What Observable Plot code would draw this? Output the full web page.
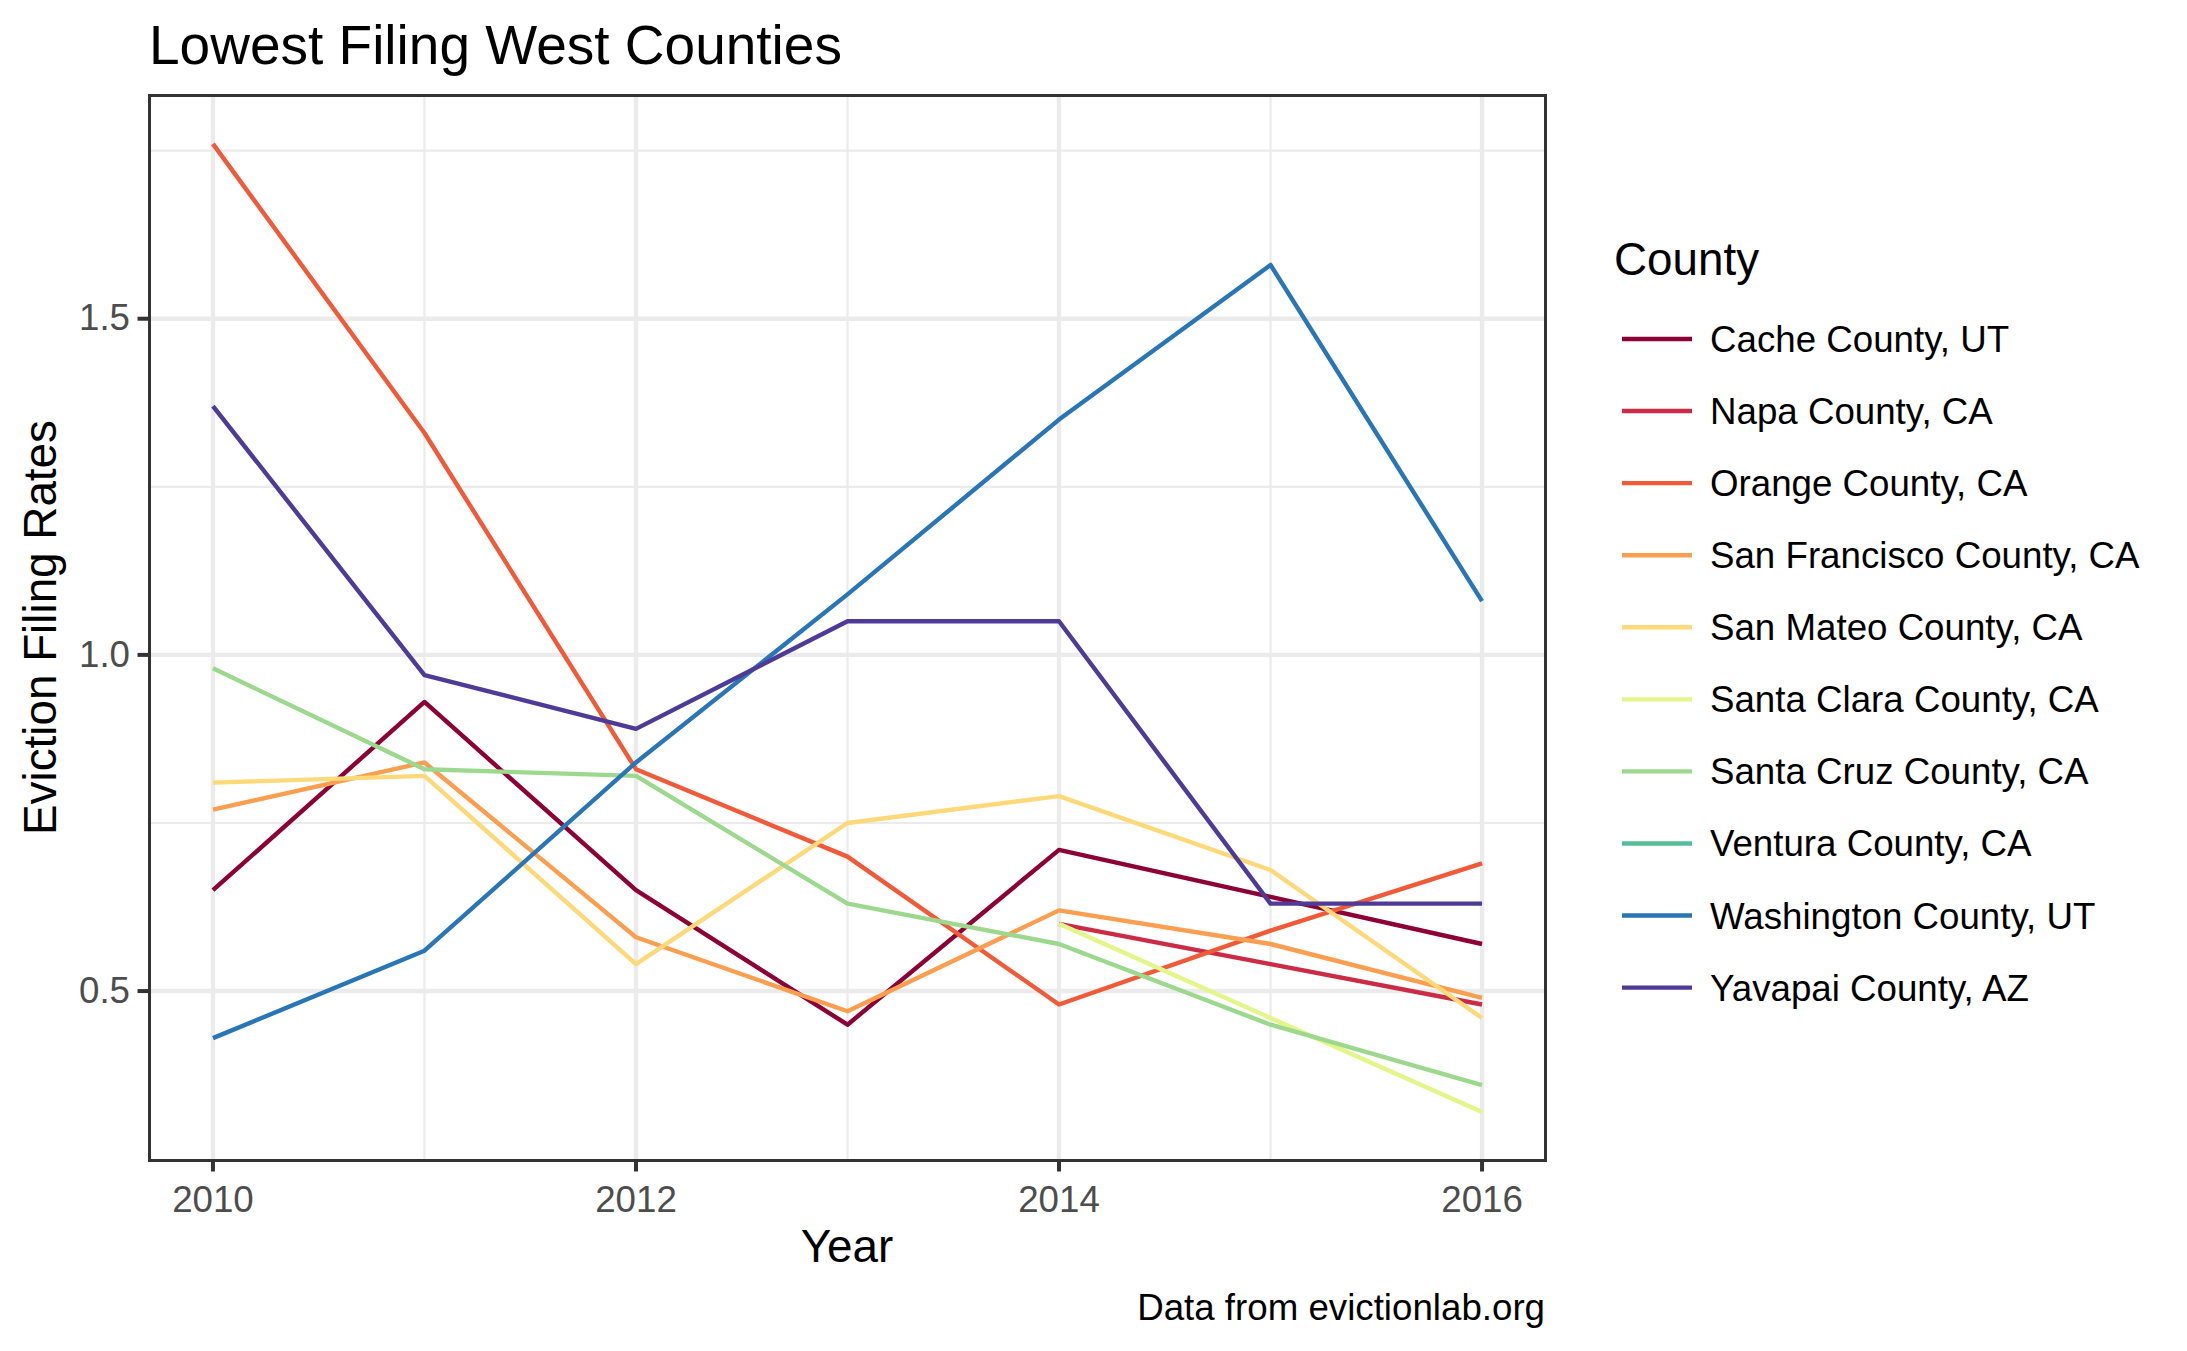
<!DOCTYPE html>
<html>
<head>
<meta charset="utf-8">
<script src="https://cdn.jsdelivr.net/npm/d3@7"></script>
<script src="https://cdn.jsdelivr.net/npm/@observablehq/plot@0.6"></script>
<style>
  html, body { margin: 0; padding: 0; background: #ffffff; }
  #chart { position: relative; width: 2187px; height: 1351px; }
  #chart svg { display: block; }
</style>
</head>
<body>
<div id="chart"></div>
<script>
// ---- Data ----
const years = [2010, 2011, 2012, 2013, 2014, 2015, 2016];
const counties = [
  "Cache County, UT",
  "Napa County, CA",
  "Orange County, CA",
  "San Francisco County, CA",
  "San Mateo County, CA",
  "Santa Clara County, CA",
  "Santa Cruz County, CA",
  "Ventura County, CA",
  "Washington County, UT",
  "Yavapai County, AZ"
];
const cacheUT        = [0.65, 0.93, 0.65, 0.45, 0.71, 0.64, 0.57];
const napaCA         = [null, null, null, null, 0.60, 0.54, 0.48];
const orangeCA       = [1.76, 1.33, 0.83, 0.70, 0.48, 0.59, 0.69];
const sanFranciscoCA = [0.77, 0.84, 0.58, 0.47, 0.62, 0.57, 0.49];
const sanMateoCA     = [0.81, 0.82, 0.54, 0.75, 0.79, 0.68, 0.46];
const santaClaraCA   = [null, null, null, null, 0.60, 0.46, 0.32];
const santaCruzCA    = [0.98, 0.83, 0.82, 0.63, 0.57, 0.45, 0.36];
const venturaCA      = [null, null, null, null, null, null, null];
const washingtonUT   = [0.43, 0.56, 0.84, 1.09, 1.35, 1.58, 1.08];
const yavapaiAZ      = [1.37, 0.97, 0.89, 1.05, 1.05, 0.63, 0.63];

const xMajorTicks = [2010, 2012, 2014, 2016];
const xMinorTicks = [2011, 2013, 2015];
const yMajorTicks = [0.5, 1.0, 1.5];
const yMinorTicks = [0.75, 1.25, 1.75];

const palette = ["#8C0036", "#CC2B45", "#F05A38", "#FB9E4F", "#FED97A",
                 "#E4F58A", "#9DD88F", "#55BE97", "#2876B6", "#4E3B98"];

// ---- Build long table ----
const series = [cacheUT, napaCA, orangeCA, sanFranciscoCA, sanMateoCA,
                santaClaraCA, santaCruzCA, venturaCA, washingtonUT, yavapaiAZ];
const rows = [];
series.forEach((vals, i) => {
  vals.forEach((v, j) => {
    if (v != null) rows.push({county: counties[i], year: years[j], rate: v});
  });
});

// ggplot-like 5% expansion
const yExt = d3.extent(rows, d => d.rate);
const yPad = (yExt[1] - yExt[0]) * 0.05;
const xExt = d3.extent(years);
const xPad = (xExt[1] - xExt[0]) * 0.05;

const W = 2187, H = 1351;
const mL = 149, mR = W - 1545, mT = 95, mB = H - 1160;
const font = "'Liberation Sans', Arial, Helvetica, sans-serif";
const grid = "#EBEBEB";

const chart = Plot.plot({
  width: W,
  height: H,
  marginLeft: mL,
  marginRight: mR,
  marginTop: mT,
  marginBottom: mB,
  style: {fontFamily: font, background: "#ffffff", overflow: "visible"},
  x: {domain: [xExt[0] - xPad, xExt[1] + xPad]},
  y: {domain: [yExt[0] - yPad, yExt[1] + yPad]},
  color: {domain: counties, range: palette},
  marks: [
    Plot.ruleY(yMinorTicks, {stroke: grid, strokeWidth: 2.2}),
    Plot.ruleX(xMinorTicks, {stroke: grid, strokeWidth: 2.2}),
    Plot.ruleY(yMajorTicks, {stroke: grid, strokeWidth: 4.4}),
    Plot.ruleX(xMajorTicks, {stroke: grid, strokeWidth: 4.4}),
    Plot.line(rows, {x: "year", y: "rate", z: "county", stroke: "county",
                     strokeWidth: 4.4, strokeLinejoin: "round", strokeLinecap: "butt"}),
    Plot.frame({stroke: "#333333", strokeWidth: 3}),
    Plot.axisX(xMajorTicks, {tickFormat: "d", tickSize: 11.5, tickPadding: 14,
                  stroke: "#333333", strokeWidth: 4, fill: "#4D4D4D",
                  fontSize: 36.7, label: null}),
    Plot.axisY(yMajorTicks, {tickFormat: d => d.toFixed(1), tickSize: 11.5, tickPadding: 8,
                  stroke: "#333333", strokeWidth: 4, fill: "#4D4D4D",
                  fontSize: 36.7, label: null})
  ]
});

document.getElementById("chart").appendChild(chart);

// ---- Title, axis titles, legend, caption ----
const svg = d3.select(chart);
const extras = svg.append("g").attr("font-family", font).attr("fill", "#000000")
  .attr("text-anchor", "start");

extras.append("text")
  .attr("x", 149).attr("y", 64)
  .attr("text-anchor", "start")
  .attr("font-size", 55)
  .text("Lowest Filing West Counties");

extras.append("text")
  .attr("x", (mL + (W - mR)) / 2).attr("y", 1262)
  .attr("text-anchor", "middle")
  .attr("font-size", 45.8)
  .text("Year");

extras.append("text")
  .attr("transform", `translate(56, ${(mT + (H - mB)) / 2}) rotate(-90)`)
  .attr("text-anchor", "middle")
  .attr("font-size", 45.8)
  .text("Eviction Filing Rates");

extras.append("text")
  .attr("x", 1545).attr("y", 1320)
  .attr("text-anchor", "end")
  .attr("font-size", 36.7)
  .text("Data from evictionlab.org");

// Legend
const legend = extras.append("g").attr("text-anchor", "start");
legend.append("text")
  .attr("x", 1614).attr("y", 275)
  .attr("text-anchor", "start")
  .attr("font-size", 45.8)
  .text("County");
const colorScale = chart.scale("color");
counties.forEach((c, i) => {
  const y = 339 + i * 72.07;
  legend.append("line")
    .attr("x1", 1622).attr("x2", 1692)
    .attr("y1", y).attr("y2", y)
    .attr("stroke", colorScale.apply(c))
    .attr("stroke-width", 4.4);
  legend.append("text")
    .attr("x", 1710).attr("y", y + 13)
    .attr("text-anchor", "start")
    .attr("font-size", 36.7)
    .text(c);
});
</script>
</body>
</html>
